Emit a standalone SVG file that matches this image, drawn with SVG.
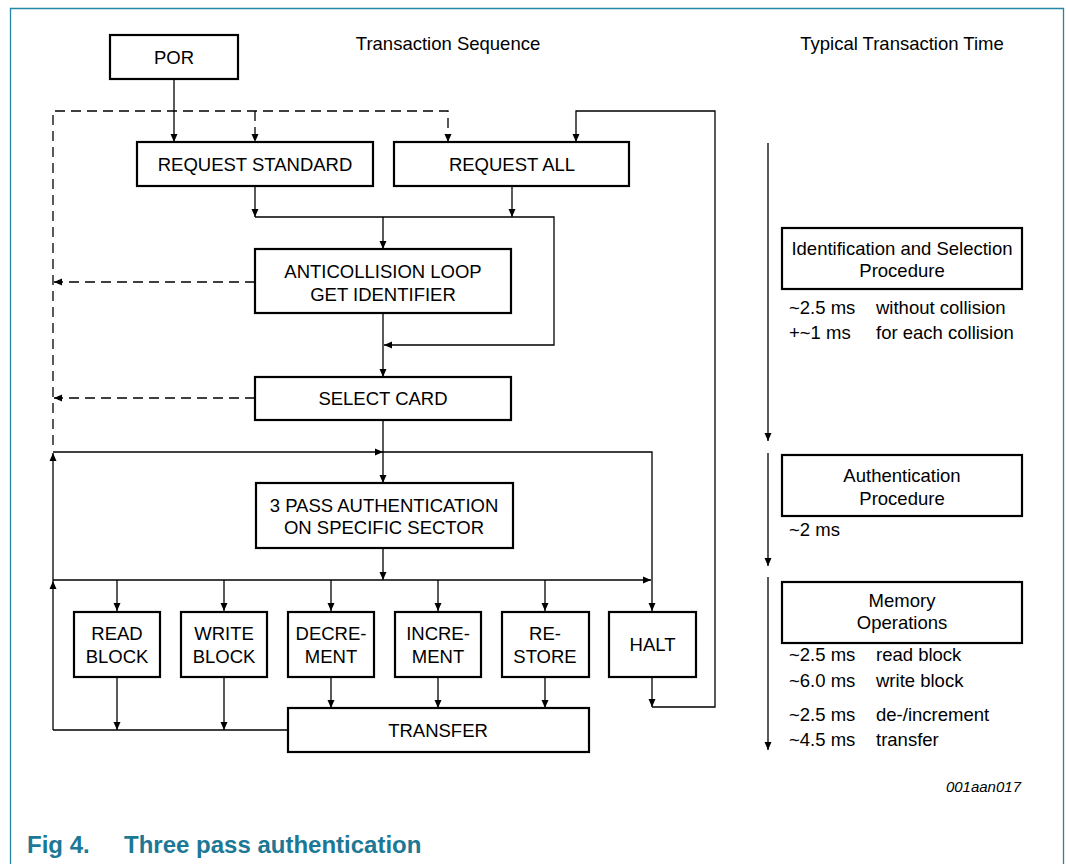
<svg xmlns="http://www.w3.org/2000/svg" width="1066" height="864" viewBox="0 0 1066 864">
<style>
.box{fill:#fff;stroke:#000;stroke-width:2.2}
.t{font-family:"Liberation Sans",Arial,sans-serif;font-size:18.5px;fill:#000;text-anchor:middle}
.tl{font-family:"Liberation Sans",Arial,sans-serif;font-size:18.5px;fill:#000}
.c{fill:none;stroke:#000;stroke-width:1.3}
.d{fill:none;stroke:#000;stroke-width:1.3;stroke-dasharray:10 6}
.a{marker-end:url(#ah)}
</style>
<defs>
<marker id="ah" markerUnits="userSpaceOnUse" markerWidth="8" markerHeight="8" refX="8" refY="4" orient="auto">
<path d="M0,0.5 L8,4 L0,7.5 z" fill="#000"/>
</marker>
</defs>
<rect width="1066" height="864" fill="#fff"/>
<path d="M10.5,864 V8.5 H1063.5 V864" fill="none" stroke="#2486a3" stroke-width="1.3"/>

<text class="t" x="448" y="49.5">Transaction Sequence</text>
<text class="t" x="902" y="49.5">Typical Transaction Time</text>

<g id="connectors">
<path class="c a" d="M174,79 V142"/>
<path class="d a" d="M53,445 V111 H448 V142"/>
<path class="d a" d="M255,111 V142"/>
<path class="c a" d="M652,677 V707"/>
<path class="c a" d="M652,707 H715 V111 H576 V142"/>
<path class="c a" d="M255,186 V217"/>
<path class="c a" d="M512,186 V217"/>
<path class="c a" d="M255,217 H554 V345 H384"/>
<path class="c a" d="M383,217 V249"/>
<path class="c a" d="M383,313 V377"/>
<path class="d a" d="M255,282 H54"/>
<path class="d a" d="M255,398 H54"/>
<path class="c a" d="M383,420 V483"/>
<path class="c a" d="M53,730 V581"/>
<path class="c a" d="M53,581 V453"/>
<path class="c a" d="M53,452 H383"/>
<path class="c a" d="M383,452 H652 V611"/>
<path class="c a" d="M383,548 V580"/>
<path class="c a" d="M53,580 H651"/>
<path class="c a" d="M117,580 V611"/>
<path class="c a" d="M224,580 V611"/>
<path class="c a" d="M331,580 V611"/>
<path class="c a" d="M438,580 V611"/>
<path class="c a" d="M545,580 V611"/>
<path class="c a" d="M117,677 V730"/>
<path class="c a" d="M224,677 V730"/>
<path class="c a" d="M331,677 V708"/>
<path class="c a" d="M438,677 V708"/>
<path class="c a" d="M545,677 V708"/>
<path class="c" d="M288,730 H53"/>
<path class="c a" d="M768,143 V441"/>
<path class="c a" d="M768,453 V566"/>
<path class="c a" d="M768,577 V750"/>
</g>

<g id="por"><rect class="box" x="110" y="35" width="128" height="44"/><text class="t" x="174" y="63.5">POR</text></g>
<g id="req-std"><rect class="box" x="137" y="142" width="236" height="44"/><text class="t" x="255" y="170.5">REQUEST STANDARD</text></g>
<g id="req-all"><rect class="box" x="394" y="142" width="235" height="44"/><text class="t" x="512" y="170.5">REQUEST ALL</text></g>
<g id="anticoll"><rect class="box" x="255" y="249" width="256" height="64"/><text class="t" x="383" y="277.5">ANTICOLLISION LOOP</text><text class="t" x="383" y="300.5">GET IDENTIFIER</text></g>
<g id="select"><rect class="box" x="255" y="377" width="256" height="43"/><text class="t" x="383" y="405">SELECT CARD</text></g>
<g id="auth"><rect class="box" x="256" y="483" width="257" height="65"/><text class="t" x="384" y="511.5">3 PASS AUTHENTICATION</text><text class="t" x="384" y="534">ON SPECIFIC SECTOR</text></g>
<g id="read"><rect class="box" x="74" y="612" width="86" height="65"/><text class="t" x="117" y="639.5">READ</text><text class="t" x="117" y="662.5">BLOCK</text></g>
<g id="write"><rect class="box" x="181" y="612" width="86" height="65"/><text class="t" x="224" y="639.5">WRITE</text><text class="t" x="224" y="662.5">BLOCK</text></g>
<g id="decr"><rect class="box" x="288" y="612" width="86" height="65"/><text class="t" x="331" y="639.5">DECRE-</text><text class="t" x="331" y="662.5">MENT</text></g>
<g id="incr"><rect class="box" x="395" y="612" width="86" height="65"/><text class="t" x="438" y="639.5">INCRE-</text><text class="t" x="438" y="662.5">MENT</text></g>
<g id="restore"><rect class="box" x="502" y="612" width="87" height="65"/><text class="t" x="545" y="639.5">RE-</text><text class="t" x="545" y="662.5">STORE</text></g>
<g id="halt"><rect class="box" x="609" y="612" width="87" height="65"/><text class="t" x="652.5" y="651">HALT</text></g>
<g id="transfer"><rect class="box" x="288" y="708" width="301" height="44"/><text class="t" x="438" y="736.5">TRANSFER</text></g>

<g id="ident"><rect class="box" x="782" y="228" width="240" height="61"/><text class="t" x="902" y="255">Identification and Selection</text><text class="t" x="902" y="277">Procedure</text></g>
<g id="authproc"><rect class="box" x="782" y="455" width="240" height="61"/><text class="t" x="902" y="482">Authentication</text><text class="t" x="902" y="504.5">Procedure</text></g>
<g id="memops"><rect class="box" x="782" y="582" width="240" height="61"/><text class="t" x="902" y="607">Memory</text><text class="t" x="902" y="629">Operations</text></g>

<g id="times">
<text class="tl" x="789" y="314">~2.5 ms</text><text class="tl" x="876" y="314">without collision</text>
<text class="tl" x="789" y="339">+~1 ms</text><text class="tl" x="876" y="339">for each collision</text>
<text class="tl" x="789" y="536">~2 ms</text>
<text class="tl" x="789" y="661">~2.5 ms</text><text class="tl" x="876" y="661">read block</text>
<text class="tl" x="789" y="687">~6.0 ms</text><text class="tl" x="876" y="687">write block</text>
<text class="tl" x="789" y="721">~2.5 ms</text><text class="tl" x="876" y="721">de-/increment</text>
<text class="tl" x="789" y="746">~4.5 ms</text><text class="tl" x="876" y="746">transfer</text>
</g>
<text x="1021" y="792" font-family="Liberation Sans,Arial,sans-serif" font-size="15" font-style="italic" text-anchor="end">001aan017</text>

<g font-family="Liberation Sans,Arial,sans-serif" font-size="24" font-weight="bold" fill="#1c7895">
<text x="27" y="853">Fig 4.</text>
<text x="124" y="853">Three pass authentication</text>
</g>
</svg>
